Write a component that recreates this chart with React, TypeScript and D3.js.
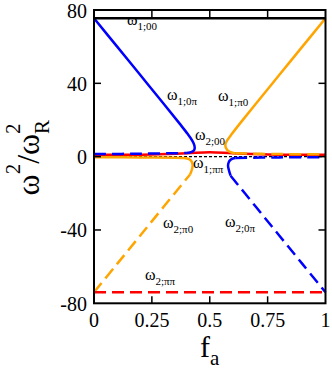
import * as d3 from 'd3';

// branches, as [f_a, omega^2/omega_R^2]
const omega1_00 = [[0, 75.5], [1, 75.5]];
const omega2_00 = [[0, 0], [1, 0]];
const omega2_pipi = [[0, -74], [1, -74]];
const omega1_pipi = [[0, 1], [0.25, 1.2], [0.4, 1.8], [0.5, 2.4], [0.6, 1.8], [0.75, 1.2], [1, 1]];

const blueSolidUpper = [
  [0, 75.5], [0.1, 60], [0.2, 44.5], [0.3, 29], [0.37, 18], [0.405, 12.3],
  [0.425, 8.6], [0.434, 6], [0.434, 4], [0.427, 2.9], [0.415, 2.3], [0.4, 2],
];
const blueDashedLeft = [[0, 1.4], [0.2, 1.6], [0.4, 2]];
const blueDashedLower = [[0.59, -10.4], [0.7, -27.5], [0.8, -43], [0.9, -58.5], [1, -74]];
const blueSolidHook = [
  [0.59, -10.4], [0.583, -7.5], [0.579, -5], [0.582, -3], [0.59, -1.7], [0.6, -1], [0.61, -0.7],
];
const blueDashedRight = [[0.61, -0.7], [0.8, -0.4], [1, -0.3]];

const orangeSolidUpper = [
  [1, 75.5], [0.9, 60], [0.8, 44.5], [0.7, 29], [0.63, 18], [0.595, 12.3],
  [0.576, 9], [0.568, 7], [0.569, 5], [0.576, 3.6], [0.59, 2.5], [0.61, 1.8],
];
const orangeDashedRight = [[0.61, 1.8], [0.8, 1.4], [1, 1.3]];
const orangeDashedLower = [[0, -74], [0.1, -58.5], [0.2, -43], [0.3, -27.5], [0.415, -9.7]];
const orangeSolidHook = [
  [0.415, -9.7], [0.423, -7], [0.426, -4.8], [0.423, -3], [0.415, -1.7],
  [0.402, -1], [0.39, -0.7], [0.2, -0.4], [0, -0.3],
];

const xTicks = [0, 0.25, 0.5, 0.75, 1];
const xTickLabels = ['0', '0.25', '0.5', '0.75', '1'];
const yTicks = [-80, -40, 0, 40, 80];

const labels = [
  { sub: '1;00', f: 0.1425, v: 71.8 },
  { sub: '1;0π', f: 0.315, v: 30.9 },
  { sub: '1;π0', f: 0.536, v: 30.4 },
  { sub: '2;00', f: 0.436, v: 9.1 },
  { sub: '1;ππ', f: 0.428, v: -6.2 },
  { sub: '2;π0', f: 0.298, v: -38.9 },
  { sub: '2;0π', f: 0.566, v: -38.4 },
  { sub: '2;ππ', f: 0.22, v: -67.3 },
];

const BLUE = '#0000ff';
const ORANGE = '#ffa500';
const RED = '#ff0000';
const DASH = '12,6';

export default function App() {
  const width = 332;
  const height = 373;
  const left = 94;
  const right = 325.5;
  const top = 10;
  const bottom = 303.3;

  const x = d3.scaleLinear().domain([0, 1]).range([left, right]);
  const y = d3.scaleLinear().domain([-80, 80]).range([bottom, top]);

  const line = d3
    .line<number[]>()
    .x((d) => x(d[0]))
    .y((d) => y(d[1]))
    .curve(d3.curveCatmullRom.alpha(0.5));

  const series = [
    { d: omega2_00, c: '#000', dash: '3,2', w: 1.3 },
    { d: orangeDashedLower, c: ORANGE, dash: DASH },
    { d: blueDashedLower, c: BLUE, dash: DASH },
    { d: omega2_pipi, c: RED, dash: DASH },
    { d: orangeSolidHook, c: ORANGE },
    { d: blueSolidHook, c: BLUE },
    { d: omega1_pipi, c: RED },
    { d: blueDashedLeft, c: BLUE, dash: DASH },
    { d: orangeDashedRight, c: ORANGE, dash: DASH },
    { d: blueDashedRight, c: BLUE, dash: DASH },
    { d: blueSolidUpper, c: BLUE },
    { d: orangeSolidUpper, c: ORANGE },
    { d: omega1_00, c: '#000' },
  ];

  const font = '"Liberation Serif", "DejaVu Serif", serif';
  const tickLen = 7;

  return (
    <svg
      width={width}
      height={height}
      style={{ position: 'absolute', left: 0, top: 0, background: '#fff' }}
      fontFamily={font}
    >
      <rect width={width} height={height} fill="#fff" />
      {series.map((s, i) => (
        <path
          key={i}
          d={line(s.d) || ''}
          fill="none"
          stroke={s.c}
          strokeWidth={s.w ?? 2.5}
          strokeDasharray={s.dash}
        />
      ))}

      {/* frame and ticks */}
      <rect
        x={left}
        y={top}
        width={right - left}
        height={bottom - top}
        fill="none"
        stroke="#000"
        strokeWidth={2}
      />
      {xTicks.slice(1, -1).map((t) => (
        <g key={'xt' + t}>
          <line x1={x(t)} x2={x(t)} y1={bottom} y2={bottom - tickLen} stroke="#000" strokeWidth={1.5} />
          <line x1={x(t)} x2={x(t)} y1={top} y2={top + tickLen} stroke="#000" strokeWidth={1.5} />
        </g>
      ))}
      {yTicks.slice(1, -1).map((t) => (
        <g key={'yt' + t}>
          <line x1={left} x2={left + tickLen} y1={y(t)} y2={y(t)} stroke="#000" strokeWidth={1.5} />
          <line x1={right} x2={right - tickLen} y1={y(t)} y2={y(t)} stroke="#000" strokeWidth={1.5} />
        </g>
      ))}
      {xTicks.map((t, i) => (
        <text key={'xl' + t} x={x(t)} y={327} textAnchor="middle" fontSize={20}>
          {xTickLabels[i]}
        </text>
      ))}
      {yTicks.map((t) => (
        <text key={'yl' + t} x={87} y={y(t) + 7.5} textAnchor="end" fontSize={20}>
          {t}
        </text>
      ))}

      {/* curve labels */}
      {labels.map((l) => (
        <text key={l.sub} x={x(l.f)} y={y(l.v)} fontSize={16}>
          ω
          <tspan fontSize={11} dy={5}>
            {l.sub}
          </tspan>
        </text>
      ))}

      {/* axis titles */}
      <text x={x(0.5)} y={357} textAnchor="middle" fontSize={30}>
        f
        <tspan fontSize={21} dy={8}>
          a
        </tspan>
      </text>
      <text transform={`translate(39, ${(top + bottom) / 2 + 1}) rotate(-90)`} textAnchor="middle" fontSize={32}>
        ω
        <tspan fontSize={21} dy={-19}>
          2
        </tspan>
        <tspan dy={19}>/ω</tspan>
        <tspan fontSize={21} dy={-19}>
          2
        </tspan>
        <tspan fontSize={21} dx={-10.5} dy={29}>
          R
        </tspan>
      </text>
    </svg>
  );
}
